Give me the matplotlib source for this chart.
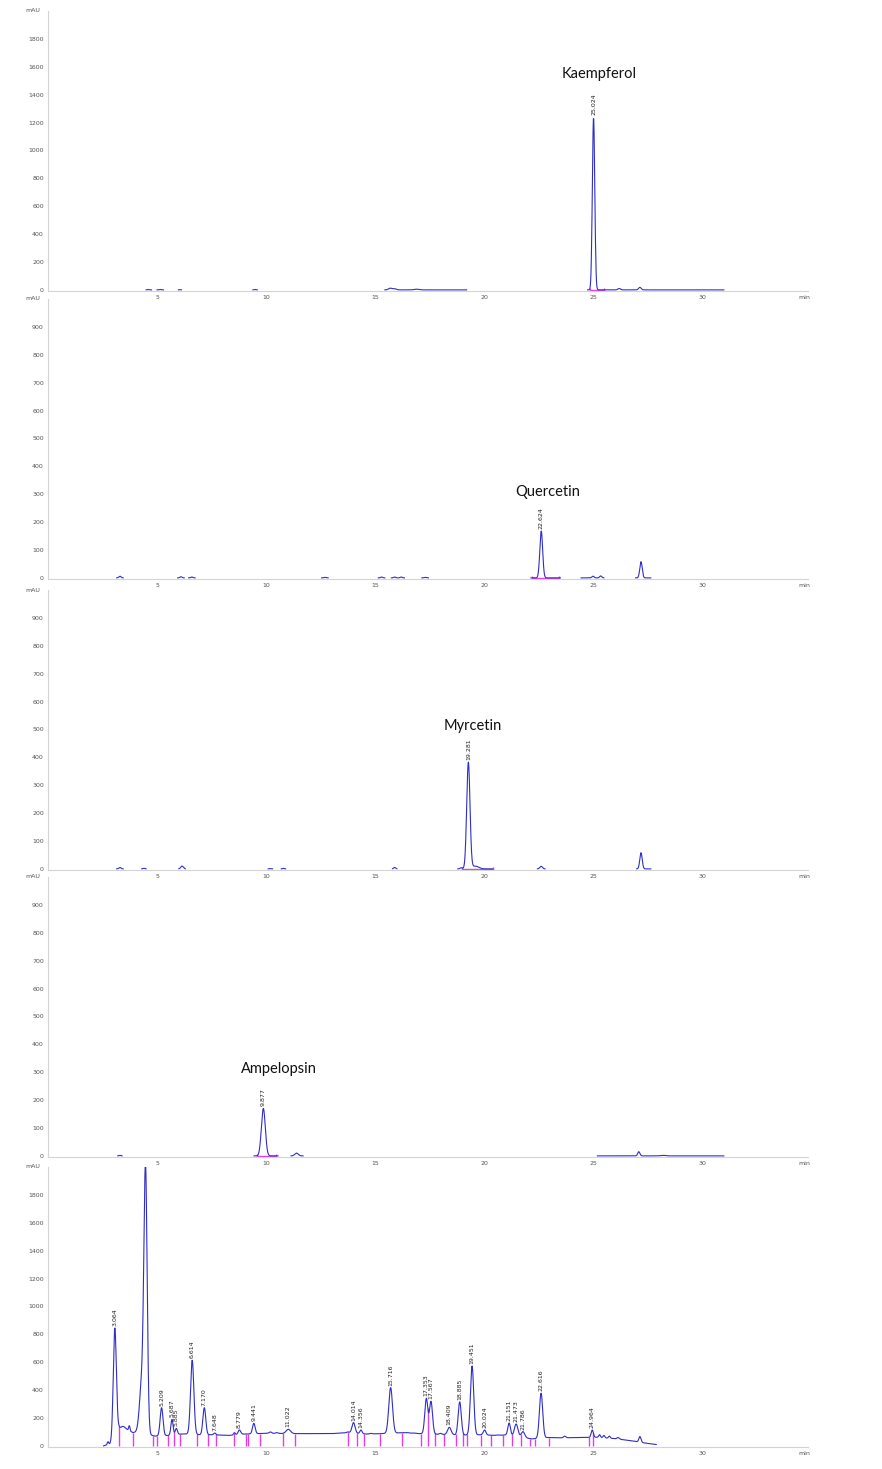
import numpy as np
import matplotlib
matplotlib.use('Agg')
import matplotlib.pyplot as plt

# ---- data (retention time in min, height in mAU, width sigma in min) ----
# panel 1 - Kaempferol standard
k_times = [4.6, 5.15, 6.05, 9.5, 15.7, 15.9, 16.9, 25.024, 26.2, 27.15]
k_heights = [3, 3, 2, 3, 12, 8, 5, 1240, 10, 18]
k_widths = [0.04, 0.05, 0.03, 0.04, 0.08, 0.08, 0.1, 0.055, 0.06, 0.06]
k_segments = [(4.5, 4.75), (5.0, 5.3), (5.98, 6.12), (9.4, 9.6), (15.45, 19.2), (24.75, 31.0)]
k_labels = [25.024]
k_base = (24.85, 25.5)

# panel 2 - Quercetin standard
q_times = [3.3, 6.1, 6.6, 12.7, 15.3, 15.9, 16.2, 17.3, 22.624, 25.0, 25.35, 27.2]
q_heights = [6, 4, 3, 2, 3, 3, 3, 2, 168, 6, 7, 58]
q_widths = [0.05, 0.05, 0.05, 0.05, 0.05, 0.05, 0.05, 0.05, 0.065, 0.05, 0.05, 0.055]
q_segments = [(3.15, 3.45), (5.95, 6.25), (6.45, 6.75), (12.55, 12.85), (15.15, 15.45), (15.75, 16.05),
              (16.1, 16.35), (17.15, 17.45), (22.15, 23.5), (24.45, 25.5), (26.95, 27.65)]
q_labels = [22.624]
q_base = (22.2, 23.45)

# panel 3 - Myrcetin standard
m_times = [3.3, 4.4, 6.15, 10.2, 10.8, 15.9, 18.95, 19.281, 19.6, 22.62, 27.2]
m_heights = [5, 2, 10, 1, 2, 5, 4, 382, 10, 9, 58]
m_widths = [0.05, 0.05, 0.06, 0.04, 0.04, 0.05, 0.05, 0.075, 0.15, 0.06, 0.055]
m_segments = [(3.15, 3.45), (4.3, 4.5), (6.0, 6.3), (10.1, 10.3), (10.7, 10.9), (15.8, 16.0),
              (18.8, 20.4), (22.45, 22.8), (27.0, 27.65)]
m_labels = [19.281]
m_base = (19.0, 20.4)

# panel 4 - Ampelopsin standard
a_times = [3.3, 9.877, 11.4, 27.1, 28.2]
a_heights = [2, 170, 10, 15, 2]
a_widths = [0.04, 0.09, 0.08, 0.05, 0.1]
a_segments = [(3.2, 3.4), (9.45, 10.55), (11.15, 11.7), (25.2, 31.0)]
a_labels = [9.877]
a_base = (9.6, 10.45)

# panel 5 - sample extract
s_base_t = [2.55, 2.85, 3.0, 3.25, 3.6, 3.9, 4.1, 4.9, 5.5, 6.1, 6.4, 7.0, 7.5, 8.3, 9.0, 10.0, 11.5,
            13.0, 13.8, 14.6, 15.3, 16.3, 17.0, 18.2, 19.0, 19.9, 20.5, 21.0, 22.2, 22.9, 23.5, 24.5,
            25.2, 26.0, 26.6, 27.4, 27.9]
s_base_v = [0, 15, 40, 130, 120, 95, 100, 70, 75, 85, 85, 80, 80, 75, 85, 90, 88,
            88, 95, 85, 88, 95, 88, 82, 78, 80, 75, 78, 50, 60, 58, 60,
            62, 52, 40, 20, 10]
s_times = [2.75, 3.064, 3.45, 3.73, 4.3, 4.474, 5.209, 5.687, 5.885, 6.614, 7.170, 7.648, 8.55, 8.779,
           9.441, 10.2, 10.5, 11.022, 13.75, 14.014, 14.356, 14.8, 15.716, 16.5, 16.8, 17.353, 17.567,
           18.0, 18.409, 18.885, 19.451, 20.024, 20.6, 21.151, 21.473, 21.786, 22.616, 23.7, 24.964,
           25.3, 25.5, 25.75, 26.15, 27.15]
s_apex = [30, 845, 140, 145, 450, 1950, 274, 190, 125, 615, 274, 92, 95, 114,
          162, 100, 95, 119, 100, 167, 114, 90, 418, 95, 92, 340, 318,
          90, 133, 316, 573, 114, 78, 164, 157, 102, 378, 70, 114,
          80, 75, 70, 60, 67]
s_widths = [0.03, 0.07, 0.08, 0.03, 0.1, 0.075, 0.065, 0.05, 0.05, 0.075, 0.065, 0.05, 0.04, 0.06,
            0.06, 0.06, 0.06, 0.1, 0.05, 0.07, 0.05, 0.05, 0.085, 0.06, 0.06, 0.07, 0.07,
            0.05, 0.08, 0.07, 0.075, 0.06, 0.06, 0.06, 0.08, 0.08, 0.075, 0.05, 0.05,
            0.04, 0.04, 0.04, 0.05, 0.05]
s_segment = (2.55, 27.9)
s_labels = [3.064, 4.474, 5.209, 5.687, 5.885, 6.614, 7.170, 7.648, 8.779, 9.441, 11.022, 14.014,
            14.356, 15.716, 17.353, 17.567, 18.409, 18.885, 19.451, 20.024, 21.151, 21.473, 21.786,
            22.616, 24.964]
s_drops = [3.26, 3.91, 4.83, 5.02, 5.49, 5.78, 6.07, 6.85, 7.36, 7.71, 8.55, 9.07, 9.19, 9.74, 10.76,
           11.33, 13.78, 14.19, 14.5, 15.23, 16.22, 17.1, 17.42, 17.75, 18.17, 18.7, 19.05, 19.23,
           19.86, 20.31, 20.89, 21.28, 21.68, 22.11, 22.34, 22.98, 24.83, 25.01]

names = ['Kaempferol', 'Quercetin', 'Myrcetin', 'Ampelopsin']
name_pos = [(25.3, 1550), (22.9, 307), (19.5, 514), (10.6, 311)]

BLUE = '#2f2fc8'
MAGENTA = '#e33ee3'
GREY = '#d4d4d4'


def trace(t, times, heights, widths, base=None):
    y = np.zeros_like(t) if base is None else base.copy()
    for c, h, w in zip(times, heights, widths):
        y += h * np.exp(-0.5 * ((t - c) / w) ** 2)
    return y


fig = plt.figure(figsize=(8.82, 14.69), dpi=100)
W, H = 882.0, 1469.0
zeros_px = [291, 579, 870, 1157, 1447]
tops = [2000, 1000, 1000, 1000, 2000]
axes = []
for zp, top in zip(zeros_px, tops):
    ax = fig.add_axes([48 / W, (H - zp) / H, 760 / W, 280 / H])
    ax.set_xlim(0, 34.86)
    ax.set_ylim(-top * 0.004, top)
    step = top // 10
    ax.set_yticks(np.arange(0, top, step))
    ax.set_xticks([5, 10, 15, 20, 25, 30])
    ax.tick_params(labelsize=4.5, colors='#555555', length=0, pad=3)
    for s in ['top', 'right']:
        ax.spines[s].set_visible(False)
    for s in ['left', 'bottom']:
        ax.spines[s].set_color(GREY)
        ax.spines[s].set_linewidth(0.8)
    ax.patch.set_alpha(0)
    ax.text(-0.35, top, 'mAU', fontsize=4.5, color='#555555', ha='right', va='center', clip_on=False)
    ax.text(34.7, -top * 0.018, 'min', fontsize=4.5, color='#555555', ha='center', va='top', clip_on=False)
    axes.append(ax)

standards = [
    (k_times, k_heights, k_widths, k_segments, k_labels, k_base),
    (q_times, q_heights, q_widths, q_segments, q_labels, q_base),
    (m_times, m_heights, m_widths, m_segments, m_labels, m_base),
    (a_times, a_heights, a_widths, a_segments, a_labels, a_base),
]

for ax, (tm, hs, ws, segs, labs, bl), name, pos in zip(axes[:4], standards, names, name_pos):
    # baseline marks under the integrated peak
    ax.plot(bl, [0, 0], color=MAGENTA, lw=1.0)
    ax.vlines(bl, 0, [ax.get_ylim()[1] * 0.006] * 2, color=MAGENTA, lw=1.0)
    for a, b in segs:
        t = np.linspace(a, b, 400)
        ax.plot(t, trace(t, tm, hs, ws), color=BLUE, lw=0.8)
    for lt in labs:
        apex = trace(np.array([lt]), tm, hs, ws)[0]
        ax.annotate(f'{lt:.3f}', (lt, apex), xytext=(0, 1.5), textcoords='offset points',
                    rotation=90, ha='center', va='bottom', fontsize=4.5, color='#222222')
    ax.text(pos[0], pos[1], name, fontsize=10.5, family=['Lato', 'DejaVu Sans'],
            ha='center', va='center', color='#111111')

# sample chromatogram
ax = axes[4]
t = np.linspace(s_segment[0], s_segment[1], 6000)
base = np.interp(t, s_base_t, s_base_v)
amps = [a - np.interp(c, s_base_t, s_base_v) for c, a in zip(s_times, s_apex)]
y = trace(t, s_times, amps, s_widths, base)
drop_tops = np.interp(s_drops, t, y)
ax.vlines(s_drops, 0, drop_tops, color=MAGENTA, lw=1.0)
ax.plot(t, y, color=BLUE, lw=0.8)
for lt in s_labels:
    apex = np.interp(lt, t, y)
    ax.annotate(f'{lt:.3f}', (lt, apex), xytext=(0, 1.5), textcoords='offset points',
                rotation=90, ha='center', va='bottom', fontsize=4.5, color='#222222',
                annotation_clip=False, clip_on=True)

fig.savefig('out.png', dpi=100)
